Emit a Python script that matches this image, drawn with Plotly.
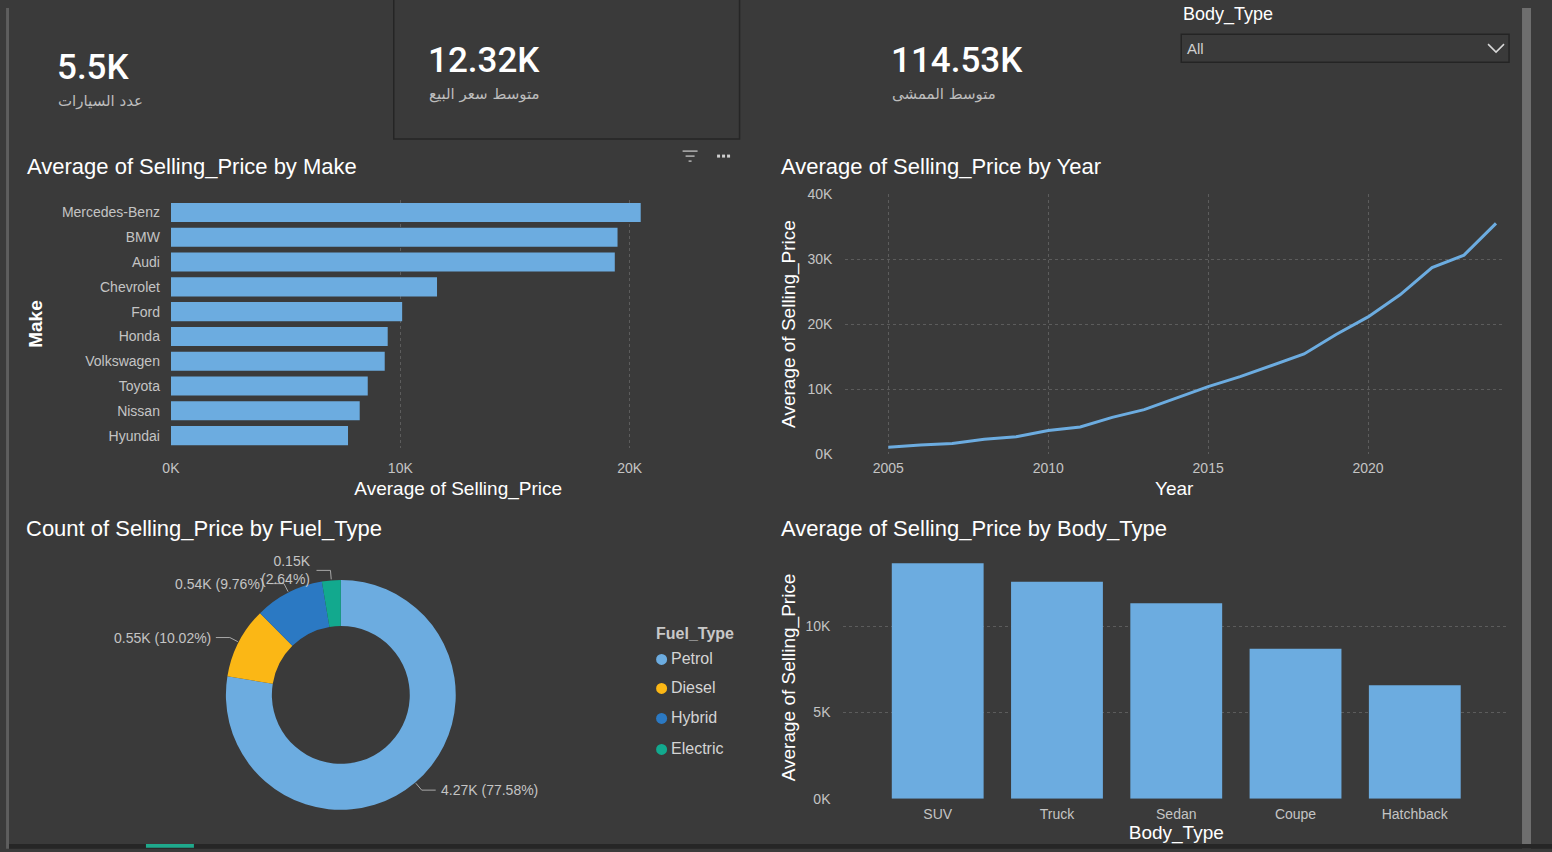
import math
import plotly.graph_objects as go

W, H = 1552, 852
BG = "#3a3a3a"
BLUE = "#6cace0"
TICK = "#c4c4c4"
GRID = "#5c5c5c"
FONT = "Liberation Sans, Arial, sans-serif"

# ---------------- data ----------------
kpi_values = ["5.5K", "12.32K", "114.53K"]
kpi_labels = ["عدد السيارات", "متوسط سعر البيع", "متوسط الممشى"]

makes = ["Mercedes-Benz", "BMW", "Audi", "Chevrolet", "Ford", "Honda",
         "Volkswagen", "Toyota", "Nissan", "Hyundai"]
make_price = [20480, 19470, 19350, 11600, 10080, 9450, 9320, 8580, 8230, 7720]

years = [2005, 2006, 2007, 2008, 2009, 2010, 2011, 2012, 2013, 2014,
         2015, 2016, 2017, 2018, 2019, 2020, 2021, 2022, 2023, 2024]
year_price = [1030, 1380, 1600, 2260, 2670, 3600, 4150, 5640, 6820, 8600,
              10360, 11900, 13700, 15400, 18400, 21100, 24500, 28700, 30600, 35500]

fuel_types = ["Petrol", "Diesel", "Hybrid", "Electric"]
fuel_counts = [4267, 551, 537, 145]
fuel_labels = ["4.27K (77.58%)", "0.55K (10.02%)", "0.54K (9.76%)", "0.15K<br>(2.64%)"]
fuel_colors = ["#6cace0", "#fbb715", "#2b79c3", "#12a98e"]

body_types = ["SUV", "Truck", "Sedan", "Coupe", "Hatchback"]
body_price = [13650, 12580, 11330, 8700, 6580]

# The page is shown with the browser's default 8px body margin and the
# resulting page is fitted into the window; map screen pixels to figure paper.
SX, SY = 1560 / 1552, 868 / 852


def px(x):
    return (x * SX - 8) / W


def py(y):
    return 1 - (y * SY - 8) / H


fig = go.Figure()

# --- bar chart by make ---
fig.add_trace(go.Bar(
    x=make_price, y=makes, orientation="h", marker=dict(color=BLUE, line=dict(width=0)),
    xaxis="x", yaxis="y", showlegend=False))

# --- line chart by year ---
fig.add_trace(go.Scatter(
    x=years, y=year_price, mode="lines", line=dict(color=BLUE, width=3),
    xaxis="x2", yaxis="y2", showlegend=False))

# --- body type bars ---
fig.add_trace(go.Bar(
    x=body_types, y=body_price, marker=dict(color=BLUE, line=dict(width=0)),
    xaxis="x3", yaxis="y3", showlegend=False))

# --- donut ---
PIE_L, PIE_R, PIE_T, PIE_B = 225, 455, 580, 810
cx, cy = (PIE_L + PIE_R) / 2, (PIE_T + PIE_B) / 2
R = min(PIE_R - PIE_L, PIE_B - PIE_T) / 2
fig.add_trace(go.Pie(
    labels=fuel_types, values=fuel_counts, hole=0.6, sort=False,
    direction="clockwise", rotation=0,
    marker=dict(colors=fuel_colors, line=dict(width=0)),
    textinfo="none",
    domain=dict(x=[px(PIE_L), px(PIE_R)], y=[py(PIE_B), py(PIE_T)]),
    showlegend=False))

annotations = []
shapes = []

# donut data labels with leader lines (computed from slice angles)
total = sum(fuel_counts)
cum = 0
for v, lab in zip(fuel_counts, fuel_labels):
    mid = (cum + v / 2) / total * 2 * math.pi
    cum += v
    ux, uy = math.sin(mid), -math.cos(mid)
    x0, y0 = cx + (R + 1) * ux, cy + (R + 1) * uy
    x1, y1 = cx + (R + 10) * ux, cy + (R + 10) * uy
    side = 1 if ux >= 0 else -1
    x2 = x1 + side * 14
    shapes.append(dict(type="path", xref="paper", yref="paper",
                       path=f"M {px(x0)} {py(y0)} L {px(x1)} {py(y1)} L {px(x2)} {py(y1)}",
                       line=dict(color="#a8a8a8", width=1)))
    annotations.append(dict(x=px(x2 + side * 3), y=py(y1), xref="paper", yref="paper",
                            text=lab, showarrow=False,
                            xanchor="left" if side > 0 else "right", yanchor="middle",
                            align="right" if side < 0 else "left",
                            font=dict(size=14, color=TICK, family=FONT)))

# legend (Power BI style: circles)
annotations.append(dict(x=px(653), y=py(634), xref="paper", yref="paper",
                        text="<b>Fuel_Type</b>", showarrow=False, xanchor="left", yanchor="middle",
                        font=dict(size=16, color="#c8c8c8", family=FONT)))
leg_y = [659, 688, 718, 749]
for name, col, yy in zip(fuel_types, fuel_colors, leg_y):
    shapes.append(dict(type="circle", xref="paper", yref="paper",
                       x0=px(655.5), x1=px(666.5), y0=py(yy + 6), y1=py(yy - 5),
                       fillcolor=col, line=dict(width=0)))
    annotations.append(dict(x=px(668), y=py(yy), xref="paper", yref="paper",
                            text=name, showarrow=False, xanchor="left", yanchor="middle",
                            font=dict(size=16, color="#d4d4d4", family=FONT)))

axis_common = dict(
    tickfont=dict(color=TICK, size=14, family=FONT),
    title_font=dict(color="#ffffff", size=19, family=FONT),
    zeroline=False, showline=False, ticks="",
)

layout = dict(
    width=W, height=H,
    margin=dict(l=0, r=0, t=0, b=0),
    paper_bgcolor=BG, plot_bgcolor=BG,
    font=dict(family=FONT, color=TICK),
    bargap=0.23,
    showlegend=False,
    # make chart
    xaxis=dict(domain=[px(170), px(745)], range=[0, 25050],
               tickvals=[0, 10000, 20000], ticktext=["0K", "10K", "20K"],
               showgrid=True, gridcolor=GRID, griddash="dot", gridwidth=1, anchor="y",
               ticklabelstandoff=10,
               title=dict(text="Average of Selling_Price", standoff=6),
               **axis_common),
    yaxis=dict(domain=[py(448), py(200)], autorange="reversed", anchor="x",
               showgrid=False, ticklabelstandoff=10,
               title=dict(text="<b>Make</b>", standoff=14), **axis_common),
    # line chart
    xaxis2=dict(domain=[px(845), px(1503)], range=[2003.66, 2024.22],
                tickvals=[2005, 2010, 2015, 2020], showgrid=True, gridcolor=GRID,
                griddash="dot", anchor="y2", ticklabelstandoff=4,
                title=dict(text="Year", standoff=6), **axis_common),
    yaxis2=dict(domain=[py(454), py(194)], range=[0, 40000],
                tickvals=[0, 10000, 20000, 30000, 40000],
                ticktext=["0K", "10K", "20K", "30K", "40K"],
                showgrid=True, gridcolor=GRID, griddash="dot", anchor="x2",
                ticklabelstandoff=12,
                title=dict(text="Average of Selling_Price", standoff=6), **axis_common),
    # body type chart
    xaxis3=dict(domain=[px(843), px(1509)], range=[-0.79, 4.79], anchor="y3",
                showgrid=False, ticklabelstandoff=5,
                title=dict(text="Body_Type", standoff=4), **axis_common),
    yaxis3=dict(domain=[py(799), py(556)], range=[0, 14070],
                tickvals=[0, 5000, 10000], ticktext=["0K", "5K", "10K"],
                showgrid=True, gridcolor=GRID, griddash="dot", anchor="x3",
                ticklabelstandoff=12,
                title=dict(text="Average of Selling_Price", standoff=4), **axis_common),
)
fig.update_layout(**layout)

# KPI cards
kpi_x = [57, 428, 892]
kpi_y = [67, 60, 60]
for xx, yy, val, lab in zip(kpi_x, kpi_y, kpi_values, kpi_labels):
    annotations.append(dict(x=px(xx - 3), y=py(yy), xref="paper", yref="paper",
                            text=val, showarrow=False, xanchor="left", yanchor="middle",
                            font=dict(size=35, color="#ffffff", family="Roboto, sans-serif", weight=500)))
    annotations.append(dict(x=px(xx - 2), y=py(yy + 34), xref="paper", yref="paper",
                            text=lab, showarrow=False, xanchor="left", yanchor="middle",
                            font=dict(size=15, color="#bdbdbd", family="DejaVu Sans, sans-serif")))

# chart titles
titles = [(26, 166, "Average of Selling_Price by Make"),
          (780, 166, "Average of Selling_Price by Year"),
          (25, 529, "Count of Selling_Price by Fuel_Type"),
          (780, 529, "Average of Selling_Price by Body_Type")]
for xx, yy, t in titles:
    annotations.append(dict(x=px(xx - 2), y=py(yy), xref="paper", yref="paper", text=t,
                            showarrow=False, xanchor="left", yanchor="middle",
                            font=dict(size=22, color="#ffffff", family=FONT)))

# slicer
annotations.append(dict(x=px(1181), y=py(14), xref="paper", yref="paper", text="Body_Type",
                        showarrow=False, xanchor="left", yanchor="middle",
                        font=dict(size=18, color="#ffffff", family=FONT)))
annotations.append(dict(x=px(1185), y=py(48), xref="paper", yref="paper", text="All",
                        showarrow=False, xanchor="left", yanchor="middle",
                        font=dict(size=15, color="#cfcfcf", family=FONT)))
shapes.append(dict(type="rect", xref="paper", yref="paper", x0=px(1181), x1=px(1509),
                   y0=py(62), y1=py(34), line=dict(color="#242424", width=1.5)))
shapes.append(dict(type="path", xref="paper", yref="paper",
                   path=f"M {px(1488)} {py(44)} L {px(1496)} {py(52)} L {px(1504)} {py(44)}",
                   line=dict(color="#d8d8d8", width=1.5)))

# middle KPI card border
shapes.append(dict(type="rect", xref="paper", yref="paper", x0=px(393), x1=px(739),
                   y0=py(139), y1=py(-3), line=dict(color="#262626", width=1.5)))

# filter & more icons
for yy, x0, x1 in [(151, 682, 697), (156, 685, 694), (161, 688, 691)]:
    shapes.append(dict(type="line", xref="paper", yref="paper", x0=px(x0), x1=px(x1),
                       y0=py(yy), y1=py(yy), line=dict(color="#cfcfcf", width=1.2)))
for xx in [718, 723, 728]:
    shapes.append(dict(type="rect", xref="paper", yref="paper", x0=px(xx - 1.5), x1=px(xx + 1.5),
                       y0=py(157.5), y1=py(154.5), fillcolor="#cfcfcf", line=dict(width=0)))

# page edges
shapes.append(dict(type="rect", xref="paper", yref="paper", x0=0, x1=px(5), y0=py(849), y1=1,
                   fillcolor="#5e5e5e", line=dict(width=0), layer="above"))
shapes.append(dict(type="rect", xref="paper", yref="paper", x0=px(1522), x1=px(1531), y0=py(849), y1=1,
                   fillcolor="#6e6e6e", line=dict(width=0), layer="above"))
shapes.append(dict(type="rect", xref="paper", yref="paper", x0=0, x1=1, y0=0, y1=py(849),
                   fillcolor="#262626", line=dict(width=0), layer="above"))
shapes.append(dict(type="rect", xref="paper", yref="paper", x0=px(145), x1=px(193), y0=0, y1=py(848),
                   fillcolor="#1fa98c", line=dict(width=0), layer="above"))

fig.update_layout(annotations=annotations, shapes=shapes)

fig.write_html("out.html")
